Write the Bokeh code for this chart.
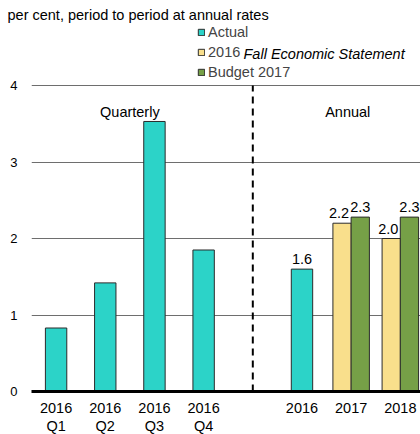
from bokeh.plotting import figure
from bokeh.models import Range1d, FixedTicker, Label, Legend, LegendItem, ColumnDataSource
from bokeh.embed import file_html
from bokeh.resources import INLINE
from bokeh.core.properties import value

# ---- data ----
title_text = "per cent, period to period at annual rates"
quarter_labels = ["2016\nQ1", "2016\nQ2", "2016\nQ3", "2016\nQ4"]
quarter_actual = [0.83, 1.42, 3.53, 1.85]
annual_labels = ["2016", "2017", "2018"]
annual_actual = [1.6, None, None]
fes_2016 = [None, 2.2, 2.0]
budget_2017 = [None, 2.28, 2.28]
y_ticks = [0, 1, 2, 3, 4]
section_labels = ["Quarterly", "Annual"]
series_names = ["Actual", "2016", "Budget 2017"]
fes_italic = "Fall Economic Statement"

TEAL = "#2CD3C8"
YELLOW = "#F9DF8C"
GREEN = "#76A047"
OUTLINE = "#2b2b2b"
FONT = "Liberation Sans"
FS = "14.5px"

# positions: quarters at 0..3, divider at 4, annual years at 5..7
nq = len(quarter_labels)
q_pos = list(range(nq))
divider = nq
a_pos = [nq + 1 + i for i in range(len(annual_labels))]

act_x = q_pos + [a_pos[i] for i, v in enumerate(annual_actual) if v is not None]
act_top = quarter_actual + [v for v in annual_actual if v is not None]

dodge = 0.185
fes_x = [a_pos[i] - dodge for i, v in enumerate(fes_2016) if v is not None]
fes_top = [v for v in fes_2016 if v is not None]
bud_x = [a_pos[i] + dodge for i, v in enumerate(budget_2017) if v is not None]
bud_top = [v for v in budget_2017 if v is not None]

p = figure(frame_width=389, frame_height=369, output_backend="svg",
           toolbar_location=None, x_range=Range1d(-0.5, 7.41),
           y_range=Range1d(0, 4.824), min_border_left=31, min_border_top=22,
           min_border_right=0, min_border_bottom=43, title=title_text)
p.outline_line_color = None
p.background_fill_color = "white"
p.border_fill_color = "white"

p.title.text_font = FONT
p.title.text_font_size = FS
p.title.text_font_style = "normal"
p.title.text_color = "black"
p.title.align = "left"
p.title.offset = -24
p.title.standoff = 0

r_act = p.vbar(x=act_x, top=act_top, width=0.435, fill_color=TEAL,
               line_color=OUTLINE, line_width=1)
r_fes = p.vbar(x=fes_x, top=fes_top, width=0.372, fill_color=YELLOW,
               line_color=OUTLINE, line_width=1)
r_bud = p.vbar(x=bud_x, top=bud_top, width=0.372, fill_color=GREEN,
               line_color=OUTLINE, line_width=1)

# divider
p.segment(x0=[divider], y0=[0], x1=[divider], y1=[y_ticks[-1]],
          line_color="black", line_width=2, line_dash="7 5")

# value labels
lab_x, lab_y, lab_t, lab_dx = [], [], [], []
for i, v in enumerate(annual_actual):
    if v is not None:
        lab_x.append(a_pos[i]); lab_y.append(v); lab_t.append(f"{v:.1f}"); lab_dx.append(0)
for x, v in zip(fes_x, fes_top):
    lab_x.append(x); lab_y.append(v); lab_t.append(f"{v:.1f}"); lab_dx.append(-3)
for x, v in zip(bud_x, bud_top):
    lab_x.append(x); lab_y.append(v); lab_t.append(f"{v:.1f}"); lab_dx.append(0)
src = ColumnDataSource(dict(x=lab_x, y=lab_y, t=lab_t, dx=lab_dx))
p.text(x="x", y="y", text="t", x_offset="dx", y_offset=-10, source=src,
       text_align="center", text_baseline="alphabetic",
       text_font=value(FONT), text_font_size=FS, text_color="black")

# section labels
p.add_layout(Label(x=(q_pos[0] + q_pos[-1]) / 2, y=3.655, text=section_labels[0],
                   text_align="center", text_baseline="alphabetic",
                   text_font=FONT, text_font_size=FS, text_color="black"))
p.add_layout(Label(x=a_pos[1] - 0.07, y=3.655, text=section_labels[1],
                   text_align="center", text_baseline="alphabetic",
                   text_font=FONT, text_font_size=FS, text_color="black"))

# legend
legend = Legend(items=[LegendItem(label=series_names[0], renderers=[r_act]),
                       LegendItem(label=series_names[1], renderers=[r_fes]),
                       LegendItem(label=series_names[2], renderers=[r_bud])],
                location=(166, 309), padding=0, margin=0, spacing=0,
                label_height=20, glyph_height=8, glyph_width=8, label_standoff=3,
                label_text_font=FONT, label_text_font_size=FS,
                border_line_color=None, background_fill_alpha=0)
p.add_layout(legend)
p.add_layout(Label(x=212, y=338, x_units="screen", y_units="screen", text=fes_italic,
                   text_align="left", text_baseline="middle", text_font_style="italic",
                   text_font=FONT, text_font_size=FS, text_color="black"))

# axes
p.xaxis.ticker = FixedTicker(ticks=q_pos + a_pos)
p.xaxis.major_label_overrides = {**{q: l for q, l in zip(q_pos, quarter_labels)},
                                 **{a: l for a, l in zip(a_pos, annual_labels)}}
p.xaxis.axis_line_width = 3
p.xaxis.axis_line_color = "black"
p.xaxis.major_tick_line_color = None
p.xaxis.minor_tick_line_color = None
p.xaxis.major_tick_out = 0
p.xaxis.major_label_standoff = 8
p.xaxis.major_label_text_font = FONT
p.xaxis.major_label_text_font_size = FS
p.xaxis.major_label_text_line_height = 1.15
p.xaxis.major_label_text_color = "black"

p.yaxis.ticker = FixedTicker(ticks=y_ticks)
p.yaxis.axis_line_color = None
p.yaxis.major_tick_line_color = None
p.yaxis.minor_tick_line_color = None
p.yaxis.major_tick_out = 0
p.yaxis.major_label_standoff = 14
p.yaxis.major_label_text_font = FONT
p.yaxis.major_label_text_font_size = "13px"
p.yaxis.major_label_text_color = "black"

p.xgrid.grid_line_color = None
p.ygrid.ticker = FixedTicker(ticks=y_ticks)
p.ygrid.grid_line_color = "#6e6e6e"
p.ygrid.grid_line_width = 1.2

open("out.html", "w").write(file_html(p, INLINE))
